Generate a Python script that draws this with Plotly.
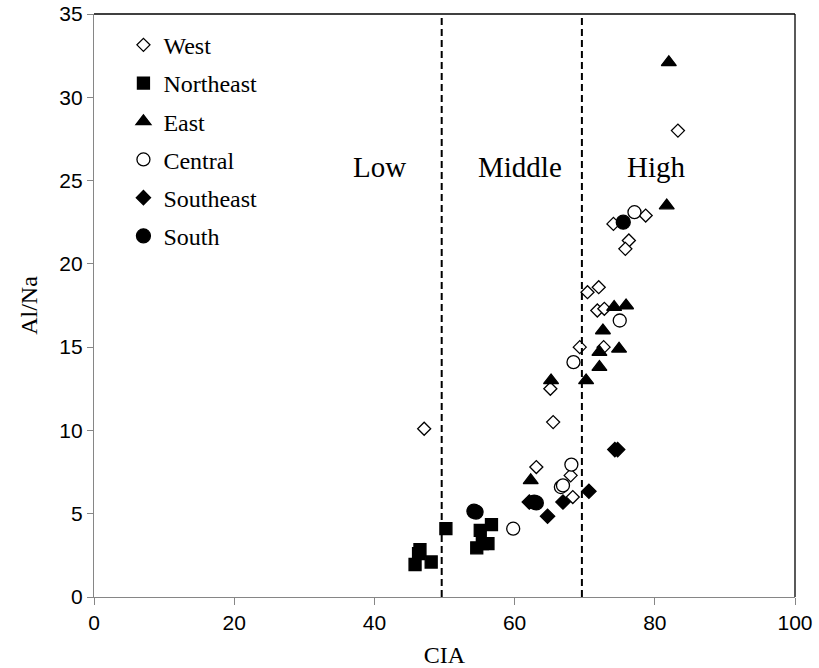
import plotly.graph_objects as go

# ---- data (CIA, Al/Na) ----
west_x = [47.1, 83.3, 78.7, 74.1, 76.3, 75.8, 70.4, 72.0, 71.8, 72.8, 69.3, 72.7, 65.1, 65.5, 63.1, 68.0, 68.3]
west_y = [10.1, 28.0, 22.9, 22.4, 21.4, 20.9, 18.3, 18.6, 17.2, 17.3, 15.0, 15.0, 12.5, 10.5, 7.8, 7.3, 6.0]

ne_x = [45.8, 48.1, 46.3, 46.5, 50.2, 55.1, 56.7, 54.6, 55.4, 56.2]
ne_y = [1.95, 2.1, 2.6, 2.85, 4.1, 4.0, 4.35, 2.95, 3.2, 3.2]

east_x = [82.0, 81.7, 74.2, 75.9, 72.6, 72.1, 74.9, 72.1, 70.2, 65.2, 62.3]
east_y = [32.1, 23.5, 17.4, 17.5, 16.0, 14.7, 14.9, 13.8, 13.0, 13.0, 7.0]

central_x = [77.1, 75.0, 68.4, 68.1, 66.6, 66.9, 59.8]
central_y = [23.1, 16.6, 14.1, 7.95, 6.6, 6.7, 4.1]

se_x = [74.3, 74.7, 70.6, 66.9, 64.7, 62.1]
se_y = [8.85, 8.85, 6.35, 5.7, 4.85, 5.7]

south_x = [75.5, 54.2, 54.5, 62.8, 63.1]
south_y = [22.5, 5.15, 5.1, 5.7, 5.65]

zone_x = [49.6, 69.6]
zone_labels = ["Low", "Middle", "High"]
zone_label_x = [40.7, 60.7, 80.2]
zone_label_y = 25.8

series = [
    ("West", west_x, west_y, "diamond", "white", 10),
    ("Northeast", ne_x, ne_y, "square", "black", 12),
    ("East", east_x, east_y, "triangle-up", "black", 13),
    ("Central", central_x, central_y, "circle", "white", 13),
    ("Southeast", se_x, se_y, "diamond", "black", 11),
    ("South", south_x, south_y, "circle", "black", 14),
]

fig = go.Figure()
for i, (name, xs, ys, sym, fill, sz) in enumerate(series):
    fig.add_trace(go.Scatter(
        x=xs, y=ys, mode="markers", name=name, legendgroup=name,
        marker=dict(symbol=sym, size=sz, color=fill,
                    line=dict(color="black", width=1.3)),
    ))

for zx in zone_x:
    fig.add_shape(type="line", x0=zx, x1=zx, y0=0, y1=35, xref="x", yref="y",
                  line=dict(color="black", width=2, dash="7px,4px"))

for t, lx in zip(zone_labels, zone_label_x):
    fig.add_annotation(x=lx, y=zone_label_y, text=t, showarrow=False,
                       font=dict(family="Liberation Serif", size=29, color="black"))

# top and right frame lines
fig.add_shape(type="line", x0=0, x1=1, y0=1, y1=1, xref="paper", yref="paper",
              line=dict(color="black", width=1.3))
fig.add_shape(type="line", x0=1, x1=1, y0=0, y1=1, xref="paper", yref="paper",
              line=dict(color="black", width=1.3))

fig.update_layout(
    width=819, height=668,
    margin=dict(l=94, r=24, t=14, b=71),
    plot_bgcolor="white", paper_bgcolor="white",
    showlegend=True,
    legend=dict(x=0.042, y=0.985, xanchor="left", yanchor="top",
                font=dict(family="Liberation Serif", size=24, color="black"),
                bgcolor="rgba(0,0,0,0)", tracegroupgap=4, itemwidth=30),
    xaxis=dict(range=[0, 100], dtick=20, tick0=0, showgrid=False, zeroline=False,
               showline=True, linecolor="#868686", linewidth=1.3, automargin=False,
               ticks="outside", ticklen=7, tickcolor="#868686",
               tickfont=dict(family="Liberation Sans", size=21, color="black"),
               title=dict(text="CIA", standoff=18,
                          font=dict(family="Liberation Serif", size=24, color="black"))),
    yaxis=dict(range=[0, 35], dtick=5, tick0=0, showgrid=False, zeroline=False,
               showline=True, linecolor="#868686", linewidth=1.3, automargin=False,
               ticks="outside", ticklen=6, tickcolor="#868686",
               tickfont=dict(family="Liberation Sans", size=21, color="black"),
               title=dict(text="Al/Na", standoff=14,
                          font=dict(family="Liberation Serif", size=24, color="black"))),
)

fig.write_html("out.html")
